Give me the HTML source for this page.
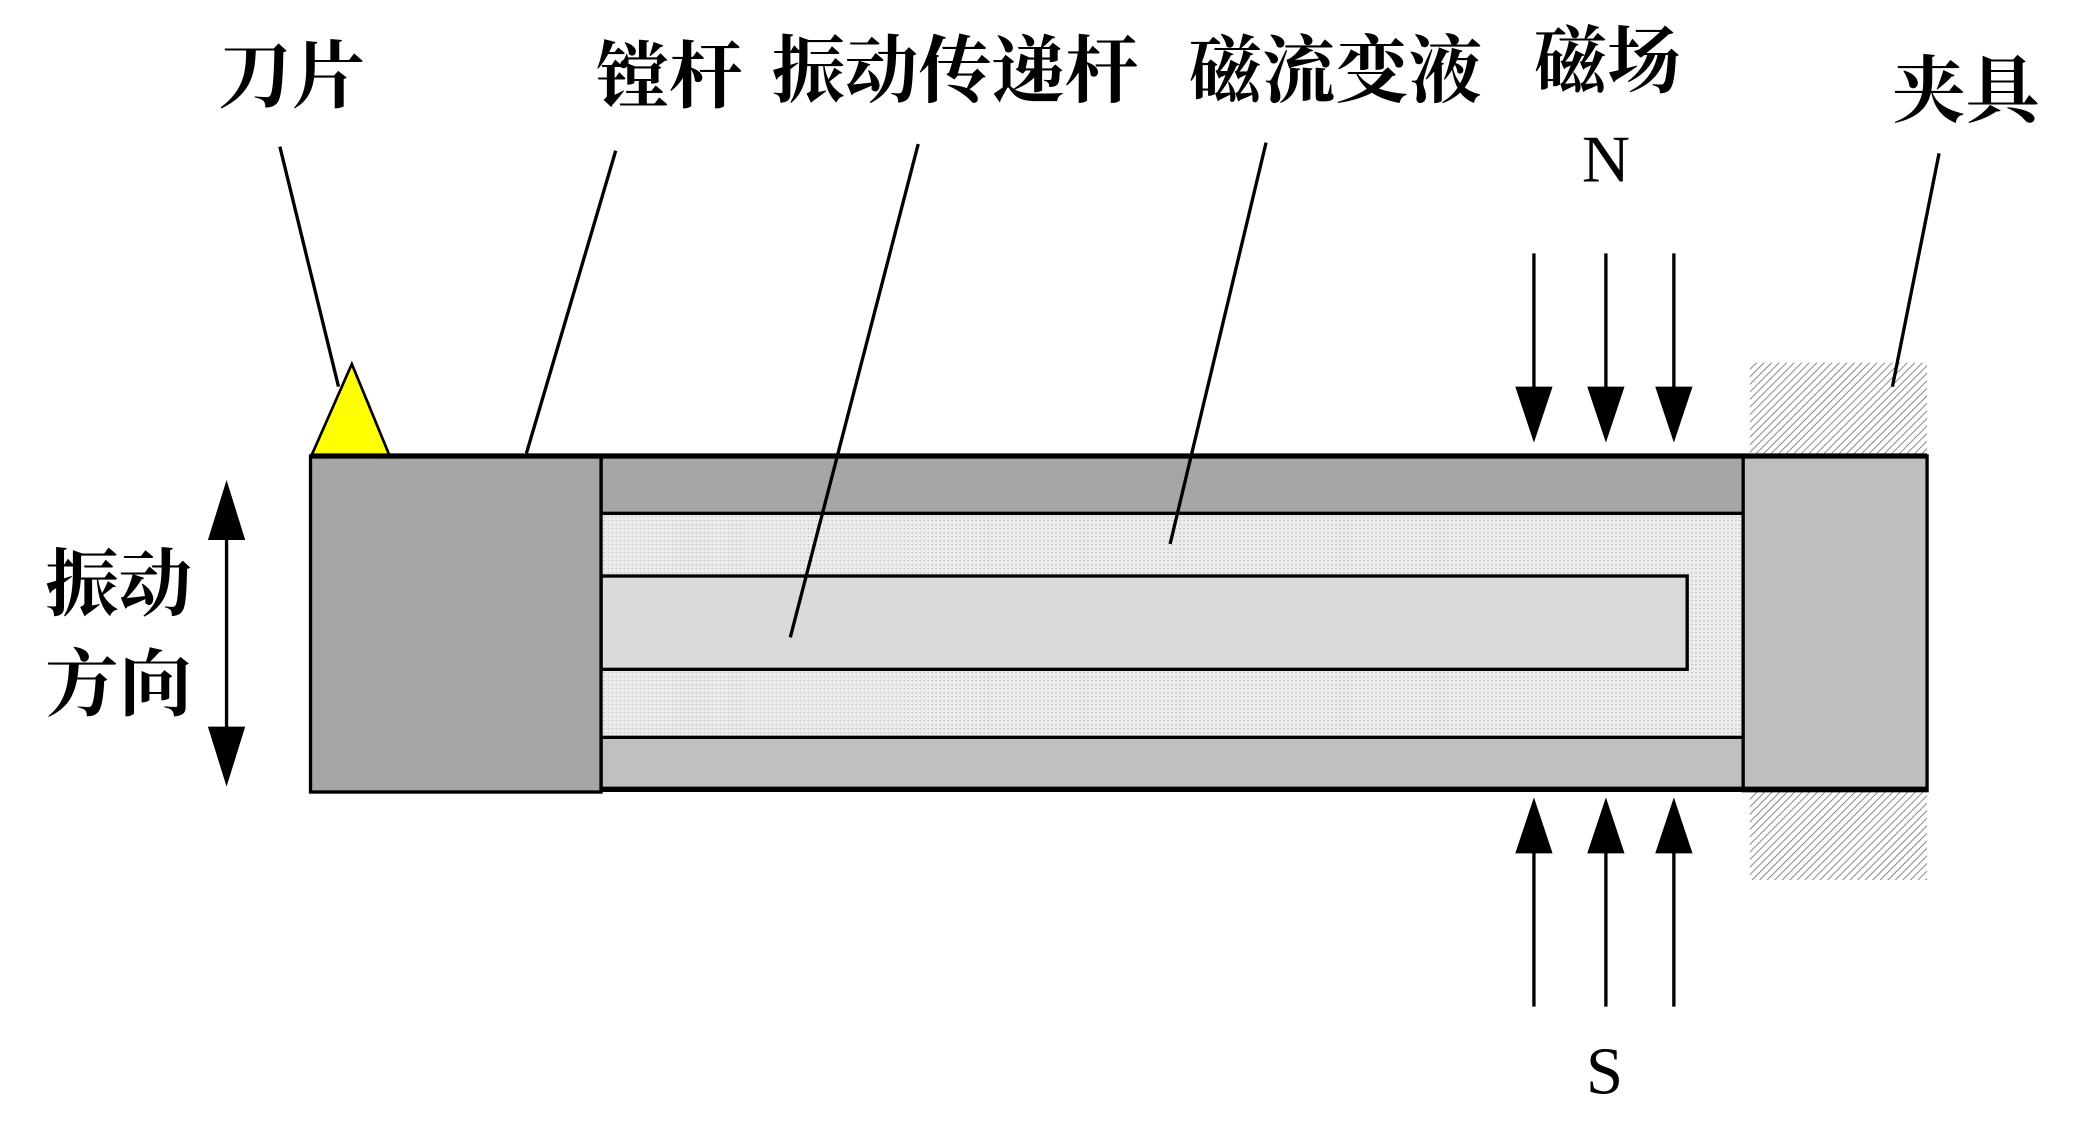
<!DOCTYPE html>
<html><head><meta charset="utf-8"><style>
html,body{margin:0;padding:0;background:#fff;width:2079px;height:1144px;overflow:hidden}
svg{display:block}
text{font-family:"Liberation Serif","Noto Serif CJK SC","Noto Sans CJK SC",serif;fill:#000}
</style></head><body>
<svg width="2079" height="1144" viewBox="0 0 1560 858" preserveAspectRatio="none">
<defs>
<pattern id="h" width="4" height="4" patternUnits="userSpaceOnUse" patternTransform="rotate(45)">
<rect width="4" height="4" fill="#fff"/><line x1="0" y1="0" x2="0" y2="4" stroke="#777" stroke-width="1.3"/>
</pattern>
<pattern id="d" width="3" height="3" patternUnits="userSpaceOnUse">
<rect width="3" height="3" fill="#ececec"/><rect width="1" height="1" fill="#bbb"/>
</pattern>
</defs>
<rect x="1313" y="272" width="133" height="70" fill="url(#h)"/>
<rect x="1313" y="593" width="133" height="67" fill="url(#h)"/>
<rect x="451" y="385" width="857" height="168" fill="url(#d)"/>
<rect x="451" y="342" width="857" height="43" fill="#a6a6a6" stroke="#000" stroke-width="2.5"/>
<rect x="451" y="553" width="857" height="39" fill="#c0c0c0" stroke="#000" stroke-width="2.5"/>
<rect x="451" y="432" width="815" height="70" fill="#dadada" stroke="#000" stroke-width="2.5"/>
<rect x="233" y="342" width="218" height="252" fill="#a6a6a6" stroke="#000" stroke-width="2.5"/>
<rect x="1308" y="342" width="138" height="251" fill="#bfbfbf" stroke="#000" stroke-width="2.5"/>
<line x1="233" y1="342" x2="1446" y2="342" stroke="#000" stroke-width="4"/>
<line x1="451" y1="592" x2="1446" y2="592" stroke="#000" stroke-width="4"/>
<polygon points="234,341 292,341 264,273" fill="#ffff00" stroke="#000" stroke-width="2"/>
<g stroke="#000" stroke-width="2.5">
<line x1="210" y1="110" x2="254" y2="290"/>
<line x1="462" y1="113" x2="395" y2="340"/>
<line x1="689" y1="108" x2="593" y2="478"/>
<line x1="950" y1="107" x2="878" y2="408"/>
<line x1="1455" y1="115" x2="1420" y2="290"/>
<line x1="170" y1="400" x2="170" y2="550"/>
<line x1="1151" y1="190" x2="1151" y2="295"/><line x1="1205" y1="190" x2="1205" y2="295"/><line x1="1256" y1="190" x2="1256" y2="295"/>
<line x1="1151" y1="635" x2="1151" y2="755"/><line x1="1205" y1="635" x2="1205" y2="755"/><line x1="1256" y1="635" x2="1256" y2="755"/>
</g>
<g fill="#000">
<polygon points="156,405 184,405 170,360"/>
<polygon points="156,545 184,545 170,590"/>
<polygon points="1137,290 1165,290 1151,332"/>
<polygon points="1191,290 1219,290 1205,332"/>
<polygon points="1242,290 1270,290 1256,332"/>
<polygon points="1137,640 1165,640 1151,598"/>
<polygon points="1191,640 1219,640 1205,598"/>
<polygon points="1242,640 1270,640 1256,598"/>
</g>
<g font-size="55" font-weight="bold">
<text x="164" y="76">刀片</text>
<text x="447" y="76">镗杆</text>
<text x="579" y="72">振动传递杆</text>
<text x="892" y="72">磁流变液</text>
<text x="1151" y="65">磁场</text>
<text x="1420" y="87">夹具</text>
<text x="34" y="457">振动</text>
<text x="34" y="532">方向</text>
</g>
<text x="1205" y="136" font-size="50" text-anchor="middle">N</text>
<text x="1204" y="820" font-size="50" text-anchor="middle">S</text>
</svg>
</body></html>
